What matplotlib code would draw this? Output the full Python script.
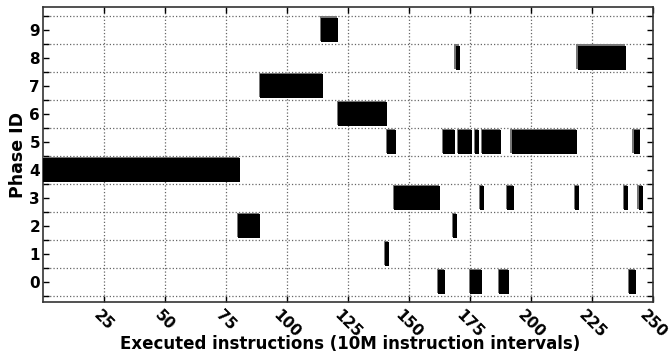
import matplotlib
matplotlib.use("Agg")
import matplotlib.pyplot as plt
from matplotlib.ticker import MultipleLocator

# Run data: first interval, last interval, phase ID
run_start = [1, 81, 90, 115, 122, 141, 142, 145, 163, 165, 169, 170, 171, 176, 178, 179,
             180, 181, 188, 191, 193, 219, 220, 239, 241, 243, 245]
run_end   = [80, 88, 114, 120, 140, 141, 144, 162, 164, 168, 169, 170, 175, 177, 178, 179,
             180, 187, 190, 192, 218, 219, 238, 239, 242, 244, 245]
run_phase = [4, 2, 7, 9, 6, 1, 5, 3, 0, 5, 2, 8, 5, 0, 5, 0,
             3, 5, 0, 3, 5, 3, 8, 3, 0, 5, 3]

x_ticks = [25, 50, 75, 100, 125, 150, 175, 200, 225, 250]
y_ticks = list(range(10))

plt.rcParams['font.family'] = ['DejaVu Sans']
fig = plt.figure(figsize=(6.69, 3.56), dpi=100)
ax = fig.add_axes([0.064, 0.152, 0.912, 0.828])

hw = 0.9   # half width of one interval marker
hh = 0.43  # half height of marker
for s, e, p in zip(run_start, run_end, run_phase):
    left = s - hw
    width = (e - s) + 2 * hw
    ax.barh(p + 0.04, width + 0.1, left=left - 0.5, height=2 * hh,
            color='#777777', edgecolor='none', zorder=3)
    ax.barh(p, width, left=left, height=2 * hh,
            color='black', edgecolor='none', zorder=4)

ax.set_xlim(0, 250)
ax.set_ylim(-0.7, 9.8)
ax.set_xticks(x_ticks)
ax.set_xticklabels([str(v) for v in x_ticks], rotation=-45, ha='center', va='top',
                   fontsize=11, fontweight='bold')
ax.set_yticks(y_ticks)
ax.set_yticklabels([str(v) for v in y_ticks], fontsize=11, fontweight='bold')
ax.yaxis.set_minor_locator(MultipleLocator(0.5))
ax.tick_params(which='both', direction='in', top=True, right=True, length=4, width=1)
ax.tick_params(axis='x', pad=4)
ax.tick_params(axis='y', pad=2)

ax.grid(True, axis='x', which='major', linestyle=':', color='#666666', linewidth=0.9)
ax.yaxis.grid(False, which='major')
ax.yaxis.grid(True, which='minor', linestyle=':', color='#666666', linewidth=0.9)
ax.set_axisbelow(True)
for sp in ax.spines.values():
    sp.set_linewidth(1.2)
    sp.set_color('#333333')

ax.set_xlabel('Executed instructions (10M instruction intervals)', fontsize=12,
              fontweight='bold')
ax.xaxis.set_label_coords(0.504, -0.112)
ax.set_ylabel('Phase ID', fontsize=12.5, fontweight='bold', labelpad=2)

fig.savefig('out.png', dpi=100)
